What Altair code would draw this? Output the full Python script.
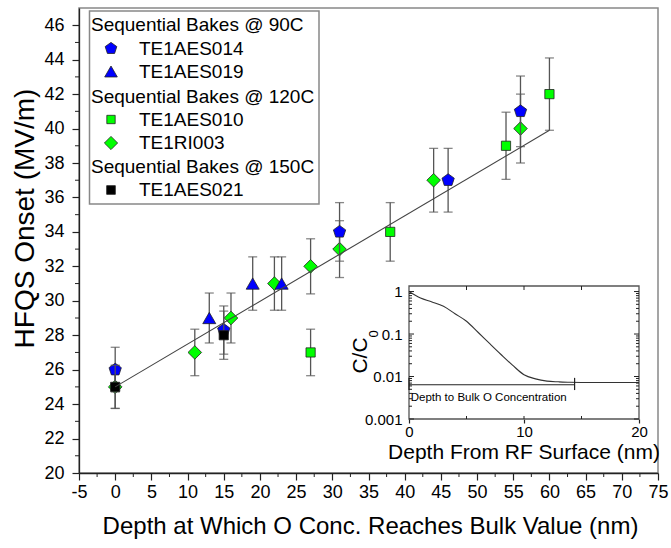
import altair as alt
import pandas as pd

# ---------------- data ----------------
# Sequential Bakes @ 90C
te1aes014_x = [0, 15, 31, 46, 56]
te1aes014_y = [26, 28.3, 34, 37, 41]
te1aes014_err = [1.3, 1.4, 1.7, 1.85, 2.05]
te1aes019_x = [13, 19, 23]
te1aes019_y = [29, 31, 31]
te1aes019_err = [1.45, 1.55, 1.55]
# Sequential Bakes @ 120C
te1aes010_x = [27, 38, 54, 60]
te1aes010_y = [27, 34, 39, 42]
te1aes010_err = [1.35, 1.7, 1.95, 2.1]
te1ri003_x = [0, 11, 16, 22, 27, 31, 44, 56]
te1ri003_y = [25, 27, 29, 31, 32, 33, 37, 40]
te1ri003_err = [1.25, 1.35, 1.45, 1.55, 1.6, 1.65, 1.85, 2.0]
# Sequential Bakes @ 150C
te1aes021_x = [0, 15]
te1aes021_y = [25, 28]
te1aes021_err = [1.25, 1.4]

# linear fit
fit_x = [0, 60]
fit_y = [25.0, 39.9]

# inset: oxygen profile
profile_depth = [0, 1, 2, 3, 4, 5, 6, 7, 8, 9, 10, 11, 12, 13, 14, 16, 20]
profile_ratio = [1.0, 0.70, 0.57, 0.45, 0.30, 0.20, 0.11, 0.060, 0.033, 0.0185,
                 0.011, 0.0088, 0.0078, 0.0075, 0.0073, 0.0072, 0.0072]
bulk_depth = [0, 14.4]
bulk_level = 0.0064
bulk_cap = [0.0048, 0.0093]
bulk_text = "Depth to Bulk O Concentration"

# axes
main_x_domain = [-5, 75]
main_y_domain = [20, 47]
main_x_ticks = list(range(-5, 80, 5))
main_y_ticks = list(range(20, 48, 2))
main_x_minor = [v + 2.5 for v in range(-5, 75, 5)]
main_y_minor = list(range(21, 47, 2))
inset_x_domain = [0, 20]
inset_y_domain = [0.001, 1.35]
inset_x_ticks = [0, 10, 20]
inset_y_ticks = [0.001, 0.01, 0.1, 1]
inset_y_minor = [m * 10.0 ** k for k in (-3, -2, -1) for m in range(2, 10)]
inset_x_inner = [5, 10, 15]

# legend
legend_headers = ["Sequential Bakes @ 90C", "Sequential Bakes @ 120C", "Sequential Bakes @ 150C"]
legend_items = ["TE1AES014", "TE1AES019", "TE1AES010", "TE1RI003", "TE1AES021"]

# ---------------- styling / layout ----------------
FONT = "Liberation Sans"
W, H = 579, 465
INSET_X_RANGE = [330, 560]
INSET_Y_RANGE = [411, 278]
BLUE, GREEN, BLACK = "#0000ff", "#00ff00", "#000000"
EB = "#555555"
PENTAGON = "M0,-1L0.951,-0.309L0.588,0.809L-0.588,0.809L-0.951,-0.309Z"

XS = alt.Scale(domain=main_x_domain, range=[0, W], nice=False, zero=False)
YS = alt.Scale(domain=main_y_domain, range=[H, 0], nice=False, zero=False)
IXS = alt.Scale(domain=inset_x_domain, range=INSET_X_RANGE, nice=False, zero=False)
IYS = alt.Scale(type="log", domain=inset_y_domain, range=INSET_Y_RANGE, nice=False)


def series(xs, ys, es, shape, color, size):
    df = pd.DataFrame({
        "x": xs, "y": ys,
        "lo": [a - b for a, b in zip(ys, es)],
        "hi": [a + b for a, b in zip(ys, es)],
    })
    base = alt.Chart(df)
    X = alt.X("x:Q", scale=XS, axis=None)
    bars = base.mark_rule(color=EB, strokeWidth=1.3).encode(
        x=X, y=alt.Y("lo:Q", scale=YS, axis=None), y2="hi:Q")
    cap_lo = base.mark_tick(orient="horizontal", size=9, thickness=1.3, color=EB).encode(
        x=X, y=alt.Y("lo:Q", scale=YS, axis=None))
    cap_hi = base.mark_tick(orient="horizontal", size=9, thickness=1.3, color=EB).encode(
        x=X, y=alt.Y("hi:Q", scale=YS, axis=None))
    pts = base.mark_point(shape=shape, filled=True, fill=color, stroke="#222",
                          strokeWidth=0.8, size=size, opacity=1).encode(
        x=X, y=alt.Y("y:Q", scale=YS, axis=None))
    return [bars, cap_lo, cap_hi, pts]


def hticks(values, edge, length, xs, ys, color="#222"):
    df = pd.DataFrame({"v": values, "e": [edge] * len(values)})
    return alt.Chart(df).mark_rule(x2Offset=length, color=color, strokeWidth=1).encode(
        x=alt.X("e:Q", scale=xs, axis=None), x2="e:Q",
        y=alt.Y("v:Q", scale=ys, axis=None))


def vticks(values, edge, length, xs, ys, color="#222"):
    df = pd.DataFrame({"v": values, "e": [edge] * len(values)})
    return alt.Chart(df).mark_rule(y2Offset=length, color=color, strokeWidth=1).encode(
        y=alt.Y("e:Q", scale=ys, axis=None), y2="e:Q",
        x=alt.X("v:Q", scale=xs, axis=None))


# ---------------- main plot ----------------
main_layers = []
main_layers += series(te1ri003_x, te1ri003_y, te1ri003_err, "diamond", GREEN, 185)
main_layers += series(te1aes010_x, te1aes010_y, te1aes010_err, "square", GREEN, 85)
main_layers += series(te1aes014_x, te1aes014_y, te1aes014_err, PENTAGON, BLUE, 167)
main_layers += series(te1aes019_x, te1aes019_y, te1aes019_err, "triangle-up", BLUE, 170)
main_layers += series(te1aes021_x, te1aes021_y, te1aes021_err, "square", BLACK, 85)

fit = alt.Chart(pd.DataFrame({"x": fit_x, "y": fit_y})).mark_line(
    color="#444", strokeWidth=1.1).encode(
    x=alt.X("x:Q", scale=XS, axis=alt.Axis(
        orient="bottom", values=main_x_ticks, tickSize=7, labelFontSize=18,
        labelPadding=3, labelFlush=False, labelOverlap=False,
        labelExpr="'' + datum.value",
        title="Depth at Which O Conc. Reaches Bulk Value (nm)", titleFontSize=24,
        titleX=291, titleY=53, titleAlign="center", titleBaseline="middle")),
    y=alt.Y("y:Q", scale=YS, axis=alt.Axis(
        orient="left", values=main_y_ticks, tickSize=7, labelFontSize=18,
        labelPadding=8, labelFlush=False, labelOverlap=False,
        title="HFQS Onset (MV/m)", titleFontSize=28, titleAngle=-90,
        titleX=-54, titleY=210, titleAlign="center", titleBaseline="middle")),
)
main_layers.append(fit)
main_layers.append(hticks(main_y_minor, main_x_domain[0], -4, XS, YS))
main_layers.append(vticks(main_x_minor, main_y_domain[0], 4, XS, YS))

# ---------------- inset ----------------
frame = alt.Chart(pd.DataFrame({
    "x0": [inset_x_domain[0]], "x1": [inset_x_domain[1]],
    "y0": [inset_y_domain[0]], "y1": [inset_y_domain[1]]})).mark_rect(
    fill="white", stroke="#555", strokeWidth=1.3).encode(
    x=alt.X("x0:Q", scale=IXS, axis=None), x2="x1:Q",
    y=alt.Y("y0:Q", scale=IYS, axis=None), y2="y1:Q")

curve = alt.Chart(pd.DataFrame({"d": profile_depth, "c": profile_ratio})).mark_line(
    color="#333", strokeWidth=1.1, interpolate="monotone").encode(
    x=alt.X("d:Q", scale=IXS, axis=alt.Axis(
        orient="bottom", offset=-54, values=inset_x_ticks, tickSize=4, domain=False,
        labelFontSize=15, labelPadding=1, labelFlush=False,
        title="Depth From RF Surface (nm)", titleFontSize=21,
        titleX=444.5, titleY=33, titleAlign="center", titleBaseline="middle")),
    y=alt.Y("c:Q", scale=IYS, axis=alt.Axis(
        orient="left", offset=-330, values=inset_y_ticks, ticks=False, domain=False,
        labelFontSize=15, labelPadding=7, labelFlush=False, format="~g", title="")),
)

bulk_df = pd.DataFrame({"x": bulk_depth, "y": [bulk_level] * 2,
                        "lo": [bulk_cap[0]] * 2, "hi": [bulk_cap[1]] * 2})
bulk_line = alt.Chart(bulk_df).mark_line(color="#222", strokeWidth=1.2).encode(
    x=alt.X("x:Q", scale=IXS, axis=None), y=alt.Y("y:Q", scale=IYS, axis=None))
bulk_caps = alt.Chart(bulk_df).mark_rule(color="#222", strokeWidth=1.2).encode(
    x=alt.X("x:Q", scale=IXS, axis=None), y=alt.Y("lo:Q", scale=IYS, axis=None), y2="hi:Q")
bulk_label = alt.Chart(pd.DataFrame({"x": [0.15], "y": [0.0032], "t": [bulk_text]})).mark_text(
    align="left", baseline="middle", fontSize=11.5, font=FONT, color="black").encode(
    x=alt.X("x:Q", scale=IXS, axis=None), y=alt.Y("y:Q", scale=IYS, axis=None), text="t:N")

cc_main = alt.Chart(pd.DataFrame({"px": [282], "py": [347.5], "t": ["C/C"]})).mark_text(
    angle=270, align="center", baseline="middle", fontSize=21, font=FONT, color="black").encode(
    x=alt.X("px:Q", scale=None), y=alt.Y("py:Q", scale=None), text="t:N")
cc_sub = alt.Chart(pd.DataFrame({"px": [295], "py": [326], "t": ["0"]})).mark_text(
    angle=270, align="center", baseline="middle", fontSize=13, font=FONT, color="black").encode(
    x=alt.X("px:Q", scale=None), y=alt.Y("py:Q", scale=None), text="t:N")

inset_layers = [
    frame, curve, bulk_line, bulk_caps, bulk_label,
    hticks(inset_y_ticks, inset_x_domain[0], 5, IXS, IYS),
    hticks(inset_y_minor, inset_x_domain[0], 3, IXS, IYS),
    hticks(inset_y_ticks, inset_x_domain[1], -5, IXS, IYS),
    hticks(inset_y_minor, inset_x_domain[1], -3, IXS, IYS),
    vticks(inset_x_inner, inset_y_domain[1], 4, IXS, IYS),
    vticks(inset_x_inner, inset_y_domain[0], -3, IXS, IYS),
    cc_main, cc_sub,
]

# ---------------- legend (pixel positions inside the plot area) ----------------
box = alt.Chart(pd.DataFrame({"x0": [10.5], "x1": [240], "y0": [3], "y1": [196]})).mark_rect(
    fill="white", stroke="#888", strokeWidth=1.5).encode(
    x=alt.X("x0:Q", scale=None), x2="x1:Q", y=alt.Y("y0:Q", scale=None), y2="y1:Q")

leg_text_df = pd.DataFrame({
    "t": [legend_headers[0], legend_items[0], legend_items[1],
          legend_headers[1], legend_items[2], legend_items[3],
          legend_headers[2], legend_items[4]],
    "px": [12, 60, 60, 12, 60, 60, 12, 60],
    "py": [17, 40.5, 63.5, 88.5, 111.5, 135, 158.5, 182],
})
leg_text = alt.Chart(leg_text_df).mark_text(
    align="left", baseline="middle", fontSize=19, font=FONT, color="black").encode(
    x=alt.X("px:Q", scale=None), y=alt.Y("py:Q", scale=None), text="t:N")


def leg_marker(py, shape, color, size):
    return alt.Chart(pd.DataFrame({"px": [32], "py": [py]})).mark_point(
        shape=shape, filled=True, fill=color, stroke="#222", strokeWidth=0.8,
        size=size, opacity=1).encode(
        x=alt.X("px:Q", scale=None), y=alt.Y("py:Q", scale=None))


legend_layers = [
    box, leg_text,
    leg_marker(40.5, PENTAGON, BLUE, 150),
    leg_marker(63.5, "triangle-up", BLUE, 160),
    leg_marker(111.5, "square", GREEN, 70),
    leg_marker(135, "diamond", GREEN, 175),
    leg_marker(182, "square", BLACK, 75),
]

chart = alt.layer(*main_layers, *inset_layers, *legend_layers).resolve_scale(
    x="independent", y="independent"
).properties(
    width=W, height=H,
    autosize=alt.AutoSizeParams(type="none"),
    padding={"left": 79, "top": 8, "right": 13, "bottom": 75},
    background="white",
).configure_axis(
    grid=False, labelFont=FONT, titleFont=FONT, domainColor="#222", tickColor="#222",
    domainWidth=1.3, tickWidth=1.2, labelColor="black", titleColor="black",
    titleFontWeight="normal",
).configure_view(
    stroke="#888", strokeWidth=1.5,
).configure_text(font=FONT)

chart.save("out.html", embed_options={"renderer": "svg", "actions": False})
